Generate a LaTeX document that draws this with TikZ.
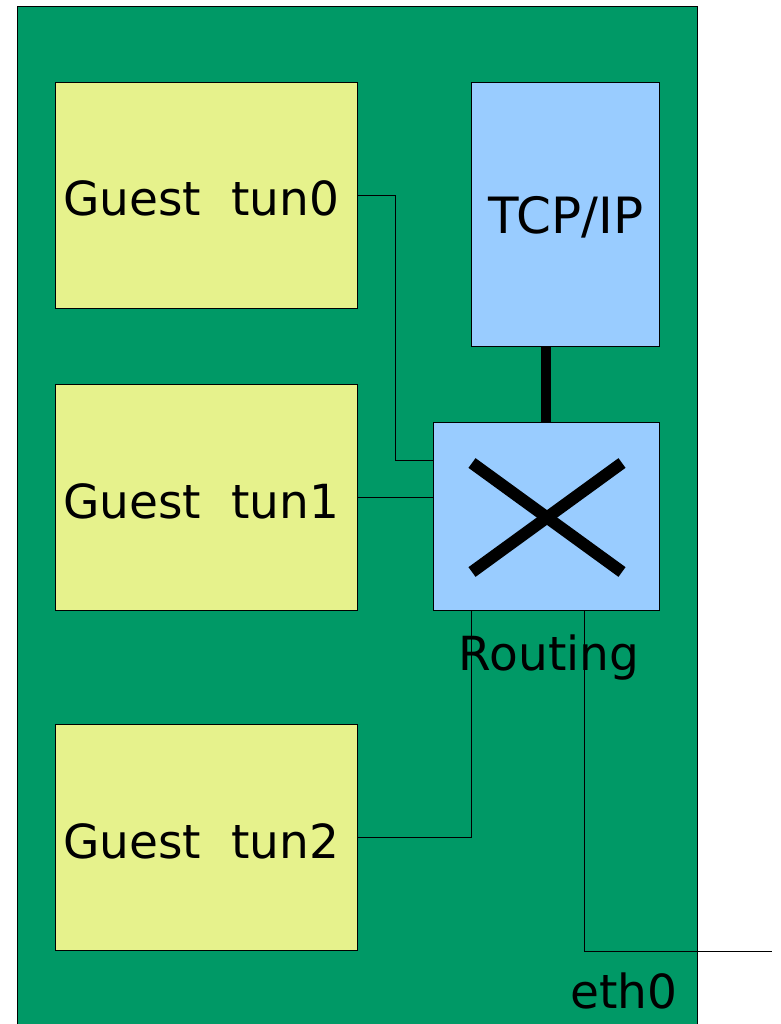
\documentclass[tikz,border=0pt]{standalone}
\usepackage{fontspec}
\setmainfont{DejaVu Sans}
\definecolor{bggreen}{RGB}{0,153,102}
\definecolor{guesty}{RGB}{230,242,140}
\definecolor{lblue}{RGB}{153,204,255}
\begin{document}
\begin{tikzpicture}[x=1pt,y=-1pt,
  guest/.style={draw=black,fill=guesty,line width=0.8pt},
  bluebox/.style={draw=black,fill=lblue,line width=0.8pt},
  wire/.style={draw=black,line width=0.8pt},
  lbl/.style={font=\fontsize{47}{50}\selectfont,inner sep=0pt}]
\useasboundingbox (0,0) rectangle (780,1024);
\fill[bggreen,draw=black,line width=0.8pt] (17,6) rectangle (697,1030);
% guest boxes
\draw[guest] (55,82) rectangle (357,308);
\draw[guest] (55,384) rectangle (357,610);
\draw[guest] (55,724) rectangle (357,950);
\node[lbl,anchor=base west] (g0) at (63,216) {Guest\ \ tun0};
\node[lbl,anchor=base west] (g1) at (63,518) {Guest\ \ tun1};
\node[lbl,anchor=base west] (g2) at (63,858) {Guest\ \ tun2};
\coordinate (g0r) at (357,195);
\coordinate (g1r) at (357,497);
\coordinate (g2r) at (357,837);
% TCP/IP
\draw[bluebox] (471,82) rectangle (659,346);
\node[lbl,font=\fontsize{50}{54}\selectfont] (tcp) at (566,217) {TCP/IP};
% Routing
\draw[bluebox] (433,422) rectangle (659,610);
\coordinate (rt) at (546,422);
\coordinate (tcpb) at (546,346);
\draw[line width=10pt] (tcpb) -- (rt);
\draw[line width=12pt] (472,463) -- (622,572);
\draw[line width=12pt] (472,572) -- (622,463);
\node[lbl,anchor=base] (rout) at (549,670) {Routing};
\node[lbl,anchor=base] (eth) at (624,1008) {eth0};
% wires
\coordinate (r0) at (433,460);
\coordinate (r1) at (433,497);
\coordinate (r2) at (471,610);
\coordinate (r3) at (584,610);
\coordinate (ethend) at (772,951);
\draw[wire] (g0r) -- (395,195) -- (395,460) -- (r0);
\draw[wire] (g1r) -- (r1);
\draw[wire] (g2r) -- (471,837) -- (r2);
\draw[wire] (r3) -- (584,951) -- (ethend);
\end{tikzpicture}
\end{document}
